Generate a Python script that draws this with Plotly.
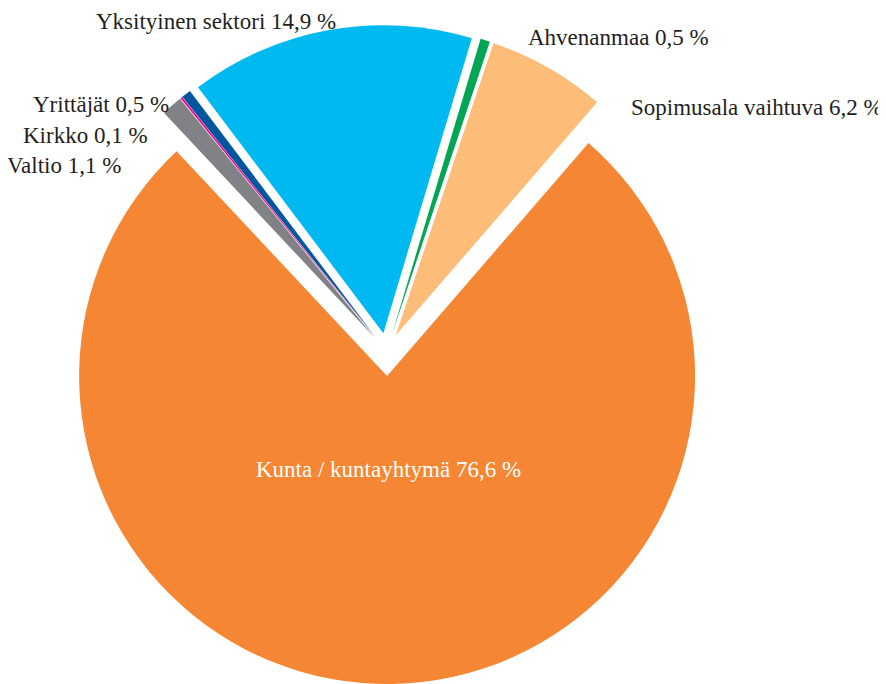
import plotly.graph_objects as go

# Data (clockwise order starting from "Yksityinen sektori")
labels = ["Yksityinen sektori", "Ahvenanmaa", "Sopimusala vaihtuva",
          "Kunta / kuntayhtymä", "Valtio", "Kirkko", "Yrittäjät"]
values = [14.9, 0.5, 6.2, 76.6, 1.1, 0.1, 0.5]
colors = ["#00B9F1", "#00A651", "#FDBD78", "#F58634", "#808285", "#EC008C", "#00559F"]
pulls = [0.06, 0.06, 0.06, 0.08, 0.06, 0.06, 0.06]

# the page body has an 8px default margin; size the figure to fit the window
OFF = 8
W, H = 886 - OFF, 684 - OFF

def fmt(v):
    return f"{v:.1f}".replace(".", ",") + " %"

texts = [f"{l} {fmt(v)}" for l, v in zip(labels, values)]

fig = go.Figure(go.Pie(
    labels=labels, values=values, sort=False, direction="clockwise",
    rotation=-37, pull=pulls, marker=dict(colors=colors, line=dict(width=0)),
    textinfo="none", hoverinfo="skip", showlegend=False,
    domain=dict(x=[0.0524, 0.810], y=[0.0, 0.984]),
))

# label placement (reference pixel positions -> paper fractions)
label_pos = {
    "Yksityinen sektori": (338, 21, "right"),
    "Ahvenanmaa": (526, 37, "left"),
    "Sopimusala vaihtuva": (629, 107, "left"),
    "Kunta / kuntayhtymä": (388, 469, "center"),
    "Valtio": (123, 165, "right"),
    "Kirkko": (150, 136, "right"),
    "Yrittäjät": (171, 104, "right"),
}
font_family = "Liberation Serif, Times New Roman, serif"
for l, t in zip(labels, texts):
    px, py, anchor = label_pos[l]
    fig.add_annotation(
        x=(px - OFF) / W, y=1 - (py - OFF) / H, xref="paper", yref="paper",
        text=t, showarrow=False, xanchor=anchor, yanchor="middle",
        font=dict(family=font_family, size=23,
                  color="#FFFFFF" if l.startswith("Kunta") else "#231F20"),
    )

fig.update_layout(
    width=W, height=H, margin=dict(l=0, r=0, t=0, b=0),
    paper_bgcolor="white", plot_bgcolor="white",
)
fig.write_html("out.html")
